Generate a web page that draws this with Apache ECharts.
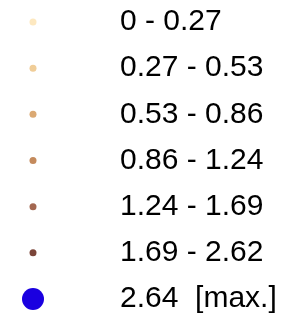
<!DOCTYPE html>
<html>
<head>
<meta charset="utf-8">
<script src="https://cdn.jsdelivr.net/npm/echarts@6/dist/echarts.min.js"></script>
<style>
  html, body { margin: 0; padding: 0; background: #fff; }
  #chart { width: 287px; height: 316px; }
</style>
</head>
<body>
<div id="chart"></div>
<script>
// legend classes (top to bottom)
const classLabels = ['0 - 0.27', '0.27 - 0.53', '0.53 - 0.86', '0.86 - 1.24', '1.24 - 1.69', '1.69 - 2.62', '2.64  [max.]']
const classColors = ['#fde8c0', '#f0cd98', '#dba973', '#c48a5c', '#a36750', '#7b4539', '#1a00e0']
const isMax = [false, false, false, false, false, false, true]

const chart = echarts.init(document.getElementById('chart'))

const option = {
  animation: false,
  grid: { left: 33, right: 174, top: 22, bottom: 17 },
  xAxis: { type: 'value', min: 0, max: 1, show: false },
  yAxis: {
    type: 'category',
    data: classLabels,
    inverse: true,
    position: 'right',
    boundaryGap: false,
    axisLine: { show: false },
    axisTick: { show: false },
    splitLine: { show: false },
    axisLabel: {
      margin: 7,
      color: '#000',
      fontSize: 30,
      fontFamily: 'Liberation Sans, Arial, sans-serif',
      padding: [2, 0, 0, 0]
    }
  },
  series: [{
    type: 'scatter',
    data: classLabels.map((c, i) => ({
      value: [0, c],
      symbolSize: isMax[i] ? 22 : 7,
      itemStyle: { color: classColors[i], opacity: 1 }
    }))
  }]
}
chart.setOption(option)
</script>
</body>
</html>
